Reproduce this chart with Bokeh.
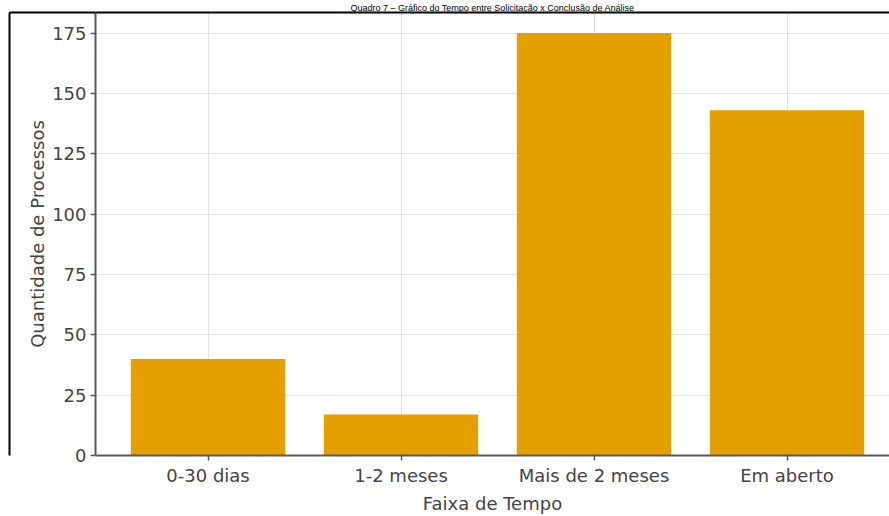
from bokeh.plotting import figure
from bokeh.models import Range1d, FixedTicker, LinearAxis, CustomJSTickFormatter
from bokeh.embed import file_html
from bokeh.resources import INLINE

# ---- data ----
categories = ["0-30 dias", "1-2 meses", "Mais de 2 meses", "Em aberto"]
quantidades = [40, 17, 175, 143]
y_ticks = [0, 25, 50, 75, 100, 125, 150, 175]
title_text = "Quadro 7 – Gráfico do Tempo entre Solicitação x Conclusão de Análise"

positions = list(range(len(categories)))

FONT = "DejaVu Sans"
AXIS_COLOR = "#5a5a5a"
LABEL_COLOR = "#444444"

X0, X1 = -0.583, 3.531
Y0, Y1 = 0, 183.5

p = figure(width=889, height=516, output_backend="svg", toolbar_location=None,
           x_range=Range1d(X0, X1), y_range=Range1d(Y0, Y1),
           min_border_left=95, min_border_right=0, min_border_top=11, min_border_bottom=52,
           title=title_text)

p.title.text_font = "Liberation Sans"
p.title.text_font_size = "9px"
p.title.text_font_style = "normal"
p.title.text_color = "black"
p.title.align = "center"
p.title.standoff = 0
p.title.offset = 0

p.vbar(x=positions, top=quantidades, width=0.8, color="#E4A000", line_color=None)

# grid
p.xgrid.ticker = FixedTicker(ticks=positions)
p.ygrid.ticker = FixedTicker(ticks=y_ticks)
for g in (p.xgrid, p.ygrid):
    g.grid_line_color = "#e3e3e3"
    g.grid_line_width = 1

p.outline_line_color = None
p.background_fill_color = "white"
p.border_fill_color = "white"

# main axes
p.xaxis.ticker = FixedTicker(ticks=positions)
p.xaxis.major_label_overrides = {i: c for i, c in zip(positions, categories)}
p.yaxis.ticker = FixedTicker(ticks=y_ticks)
p.xaxis.axis_label = "Faixa de Tempo"

for ax in (p.xaxis, p.yaxis):
    ax.axis_line_color = AXIS_COLOR
    ax.axis_line_width = 2
    ax.major_tick_line_color = AXIS_COLOR
    ax.major_tick_line_width = 1.5
    ax.major_tick_out = 5
    ax.major_tick_in = 0
    ax.minor_tick_line_color = None
    ax.major_label_text_font = FONT
    ax.major_label_text_font_size = "18px"
    ax.major_label_text_color = LABEL_COLOR
    ax.axis_label_text_font = FONT
    ax.axis_label_text_font_size = "18px"
    ax.axis_label_text_font_style = "normal"
    ax.axis_label_text_color = LABEL_COLOR
    ax.major_label_standoff = 4
p.xaxis.axis_label_standoff = 4


def bare_axis(ticks=(), **kw):
    opts = dict(ticker=FixedTicker(ticks=list(ticks)), major_tick_line_color=None,
                minor_tick_line_color=None, major_tick_out=0, major_tick_in=0,
                major_label_standoff=0, major_label_text_font_size="0px",
                major_label_text_color=None,
                formatter=CustomJSTickFormatter(code="return ''"))
    opts.update(kw)
    return LinearAxis(**opts)


# y axis title on its own axis panel
ylab = bare_axis(axis_line_color=None, axis_label="Quantidade de Processos",
                 axis_label_standoff=2, axis_label_text_font=FONT,
                 axis_label_text_font_size="18px", axis_label_text_font_style="normal",
                 axis_label_text_color=LABEL_COLOR)
p.add_layout(ylab, "left")

# spacer panel
spacer = bare_axis(axis_line_color=None, axis_label=" ", axis_label_standoff=10,
                   axis_label_text_font_size="1px")
p.add_layout(spacer, "left")

# document frame border (black box): left line, with an inward tick forming the
# top-left part of the top edge, and the top line over the plot area
p.add_layout(bare_axis(ticks=[Y1], axis_line_color="black", axis_line_width=2,
                       major_tick_line_color="black", major_tick_line_width=2,
                       major_tick_in=86), "left")
p.add_layout(bare_axis(axis_line_color="black", axis_line_width=2), "above")

open("out.html", "w").write(file_html(p, INLINE))
